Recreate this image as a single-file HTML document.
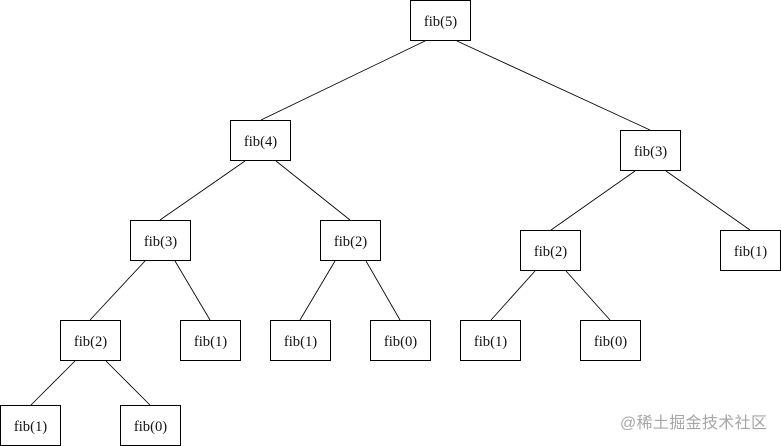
<!DOCTYPE html>
<html><head><meta charset="utf-8"><style>
html,body{margin:0;padding:0;background:#fff;width:781px;height:446px;overflow:hidden}
svg{display:block}
.n rect{fill:#fff;stroke:#000;stroke-width:1}
.n text{font-family:"Liberation Serif",serif;font-size:14.67px;text-anchor:middle;fill:#111}
line{stroke:#000;stroke-width:0.85}
</style></head><body>
<svg width="781" height="446" viewBox="0 0 781 446" xmlns="http://www.w3.org/2000/svg">
<rect width="781" height="446" fill="#fff"/>
<line x1="425" y1="41" x2="261" y2="120"/>
<line x1="457" y1="41" x2="650" y2="130"/>
<line x1="245" y1="161" x2="160" y2="220"/>
<line x1="276" y1="161" x2="350" y2="220"/>
<line x1="635" y1="171" x2="551" y2="230"/>
<line x1="666" y1="171" x2="750" y2="230"/>
<line x1="145" y1="261" x2="90" y2="320"/>
<line x1="175" y1="261" x2="210" y2="320"/>
<line x1="335" y1="261" x2="300" y2="320"/>
<line x1="366" y1="261" x2="400" y2="320"/>
<line x1="535" y1="271" x2="491" y2="320"/>
<line x1="566" y1="271" x2="610" y2="320"/>
<line x1="75" y1="361" x2="31" y2="405"/>
<line x1="106" y1="361" x2="150" y2="405"/>
<g class="n">
<rect x="410.5" y="0.5" width="60" height="40"/><text x="440.5" y="26">fib(5)</text>
<rect x="230.5" y="120.5" width="60" height="40"/><text x="260.5" y="146">fib(4)</text>
<rect x="620.5" y="130.5" width="60" height="40"/><text x="650.5" y="156">fib(3)</text>
<rect x="130.5" y="220.5" width="60" height="40"/><text x="160.5" y="246">fib(3)</text>
<rect x="320.5" y="220.5" width="60" height="40"/><text x="350.5" y="246">fib(2)</text>
<rect x="520.5" y="230.5" width="60" height="40"/><text x="550.5" y="256">fib(2)</text>
<rect x="720.5" y="230.5" width="60" height="40"/><text x="750.5" y="256">fib(1)</text>
<rect x="60.5" y="320.5" width="60" height="40"/><text x="90.5" y="346">fib(2)</text>
<rect x="180.5" y="320.5" width="60" height="40"/><text x="210.5" y="346">fib(1)</text>
<rect x="270.5" y="320.5" width="60" height="40"/><text x="300.5" y="346">fib(1)</text>
<rect x="370.5" y="320.5" width="60" height="40"/><text x="400.5" y="346">fib(0)</text>
<rect x="460.5" y="320.5" width="60" height="40"/><text x="490.5" y="346">fib(1)</text>
<rect x="580.5" y="320.5" width="60" height="40"/><text x="610.5" y="346">fib(0)</text>
<rect x="0.5" y="405.5" width="60" height="40"/><text x="30.5" y="431">fib(1)</text>
<rect x="120.5" y="405.5" width="60" height="40"/><text x="150.5" y="431">fib(0)</text>
</g>
<text x="620" y="428" textLength="147" font-size="16" fill="#a6a6a6" font-family="'Liberation Sans','Noto Sans CJK SC',sans-serif">@稀土掘金技术社区</text>
</svg>
</body></html>
